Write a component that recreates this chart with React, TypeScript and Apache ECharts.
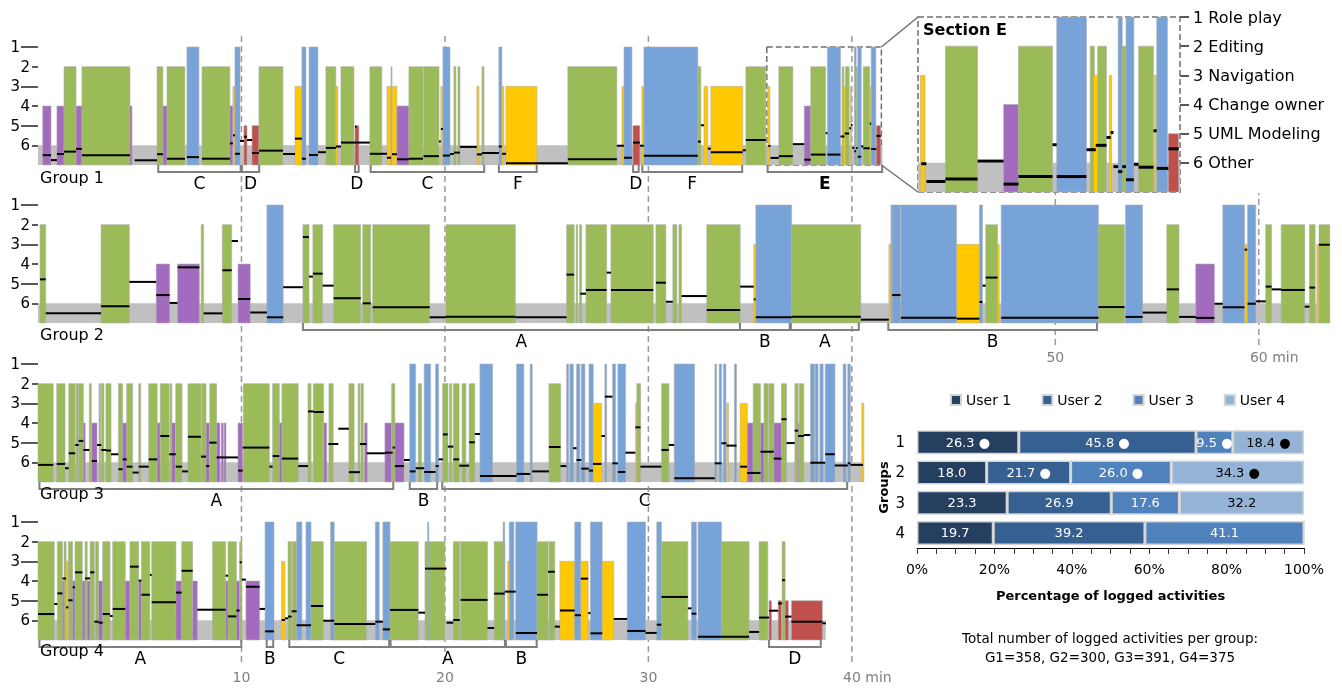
import React, { useEffect, useRef } from 'react';
import * as echarts from 'echarts';

const FONT = 'DejaVu Sans';

// ---------- timeline data (minutes, level) ----------
const LEVEL_NAMES = ['Role play', 'Editing', 'Navigation', 'Change owner', 'UML Modeling', 'Other'];
const LEVEL_COLORS = ['#77a3d8', '#9bbb59', '#ffc800', '#a36bbd', '#c0504d', '#bfbfbf'];
const GROUP_NAMES = ['Group 1', 'Group 2', 'Group 3', 'Group 4'];
const X_MAX = 63.5;
const GRAY_END = [41.5, 63.5, 40.56, 38.72];
const E_RANGE = [35.82, 41.45];
const DASH_MAIN = [10, 20, 30, 40];
const DASH_G2 = [50, 60];
const ODD_LEVELS = [1, 3, 5];
const EVEN_LEVELS = [2, 4, 6];
const ALL_LEVELS = [1, 2, 3, 4, 5, 6];

const G1_BARS = [
  [0.23, 0.64, 4], [0.93, 1.28, 4], [1.28, 1.87, 2], [1.87, 2.16, 4], [2.16, 4.52, 2], [4.52, 4.62, 4],
  [5.85, 6.14, 2], [6.14, 6.34, 4], [6.34, 7.22, 2], [7.32, 7.91, 1], [8.06, 9.43, 2], [9.43, 9.58, 4], [9.58, 9.68, 3], [9.68, 9.93, 1],
  [10.12, 10.27, 5], [10.52, 10.86, 5], [10.86, 12.04, 2], [12.63, 12.97, 3], [12.97, 13.17, 1], [13.32, 13.76, 1], [14.15, 14.64, 2], [14.64, 14.74, 3], [14.89, 15.53, 2], [15.58, 15.77, 5],
  [16.31, 16.9, 2], [17.15, 17.35, 3], [17.35, 17.4, 2], [17.4, 17.64, 3], [17.64, 18.23, 4], [18.23, 18.92, 2], [18.95, 19.71, 2], [19.8, 19.9, 3], [19.9, 20.25, 1],
  [20.44, 20.54, 2], [20.64, 20.74, 2], [21.57, 21.67, 3], [21.82, 21.92, 2], [22.65, 22.8, 1], [22.8, 22.9, 3], [23.0, 24.52, 3],
  [26.04, 28.45, 2], [28.7, 28.8, 3], [28.8, 29.19, 1], [29.24, 29.58, 5], [29.68, 29.78, 3], [29.78, 32.43, 1], [32.43, 32.58, 2], [32.73, 32.92, 3], [33.07, 34.64, 3], [34.79, 35.77, 2],
  [35.87, 35.97, 3], [36.41, 37.1, 2], [37.66, 37.98, 4], [37.98, 38.71, 2], [38.8, 39.44, 1], [39.52, 39.61, 2], [39.59, 39.68, 3], [39.68, 39.87, 2], [39.93, 39.98, 3],
  [40.12, 40.21, 1], [40.21, 40.29, 2], [40.29, 40.46, 1], [40.56, 40.88, 2], [40.9, 40.95, 3], [40.95, 41.18, 1], [41.2, 41.42, 5],
];
const G1_LINES = [
  [0.23, 0.64, 6.5], [0.64, 0.93, 6.75], [0.93, 1.28, 6.44], [1.28, 1.87, 6.32], [1.87, 2.16, 6.18], [2.16, 4.52, 6.5], [4.75, 5.85, 6.76], [5.85, 6.14, 6.45],
  [6.34, 7.22, 6.68], [7.32, 7.91, 6.6], [8.06, 9.43, 6.68], [9.43, 9.58, 5.9], [9.58, 9.68, 5.49], [9.68, 9.93, 6.43], [9.93, 10.12, 5.78], [10.12, 10.27, 5.56],
  [10.27, 10.52, 5.73], [10.52, 10.86, 6.39], [10.86, 12.04, 6.27], [12.04, 12.63, 6.44], [12.63, 12.97, 5.66], [12.97, 13.17, 6.68], [13.32, 13.76, 6.49],
  [13.76, 14.15, 6.35], [14.15, 14.64, 6.13], [14.64, 14.89, 6.06], [14.89, 16.31, 5.86], [15.58, 15.66, 5.05], [16.31, 17.15, 6.43], [17.15, 17.35, 6.63],
  [17.4, 17.64, 6.45], [17.64, 18.23, 6.71], [18.23, 18.92, 6.68], [18.95, 19.71, 6.55], [19.71, 19.8, 5.81], [19.8, 19.9, 5.17], [19.9, 20.25, 6.52],
  [20.25, 20.44, 6.44], [20.44, 20.74, 6.37], [20.74, 21.57, 6.08], [21.57, 21.82, 6.46], [21.82, 22.65, 6.39], [22.65, 22.8, 6.06], [22.8, 23.0, 6.43],
  [23.0, 26.04, 6.91], [26.04, 28.45, 6.71], [28.45, 28.8, 6.02], [28.8, 29.19, 6.63], [29.24, 29.58, 5.86], [29.58, 29.78, 6.02], [29.78, 32.43, 6.53],
  [32.43, 32.58, 5.81], [32.58, 32.73, 4.98], [32.92, 33.07, 6.17], [33.07, 34.64, 6.35], [34.64, 34.79, 6.25], [34.79, 35.77, 5.73],
  [35.89, 36.0, 6.03], [36.0, 36.41, 6.64], [36.41, 37.1, 6.55], [37.1, 37.66, 5.94], [37.66, 37.98, 6.73], [37.98, 38.71, 6.47], [38.71, 38.8, 5.38],
  [38.8, 39.44, 6.47], [39.44, 39.64, 5.55], [39.64, 39.87, 5.4], [39.87, 39.96, 5.13], [39.96, 40.02, 4.96], [40.02, 40.12, 6.13], [40.12, 40.21, 6.3],
  [40.21, 40.29, 6.13], [40.29, 40.46, 6.58], [40.46, 40.56, 6.05], [40.56, 40.88, 6.15], [40.88, 40.95, 4.9], [40.95, 41.2, 6.19], [41.2, 41.42, 5.52],
];
const G1_SECTIONS = [
  [5.91, 9.96, 'C'], [10.02, 10.87, 'D'], [15.58, 15.76, 'D'], [16.35, 21.93, 'C'], [22.65, 24.51, 'F'],
  [29.25, 29.52, 'D'], [29.7, 34.61, 'F'], [35.86, 41.49, 'E'],
];

const G2_BARS = [
  [0.1, 0.38, 2], [3.1, 4.49, 2], [5.81, 6.47, 4], [6.86, 7.93, 4], [8.02, 8.14, 2], [9.06, 9.52, 2], [9.83, 10.43, 4], [11.25, 12.05, 1],
  [13.02, 13.32, 2], [13.51, 13.99, 2], [14.53, 15.86, 2], [15.96, 16.35, 2], [16.45, 19.25, 2], [20.05, 23.46, 2],
  [25.98, 26.35, 2], [26.45, 26.52, 2], [26.62, 26.72, 2], [26.93, 27.95, 2], [28.16, 30.24, 2], [30.37, 30.86, 2], [31.2, 31.4, 2], [31.5, 31.63, 2],
  [32.87, 34.51, 2], [35.18, 35.27, 3], [35.28, 37.04, 1], [37.04, 40.44, 2],
  [41.82, 41.92, 3], [41.92, 41.98, 1], [41.98, 42.39, 1], [42.41, 45.14, 1], [45.16, 46.27, 3], [46.27, 46.42, 1], [46.58, 47.16, 2], [47.16, 47.24, 3],
  [47.34, 52.12, 1], [52.12, 53.4, 2], [53.45, 54.29, 1], [55.48, 56.08, 2], [56.9, 57.82, 4], [58.23, 59.3, 1], [59.3, 59.43, 3], [59.45, 59.85, 1],
  [60.34, 60.63, 2], [61.1, 62.26, 2], [62.49, 62.77, 2], [62.85, 62.96, 3], [62.96, 63.49, 2],
];
const G2_LINES = [
  [0.1, 0.38, 4.78], [0.38, 3.1, 6.51], [3.1, 4.49, 6.15], [4.49, 5.81, 4.91], [5.81, 6.47, 5.58], [6.47, 6.86, 5.98], [6.86, 7.93, 4.17], [8.14, 9.06, 6.51],
  [9.06, 9.52, 4.32], [9.52, 9.83, 2.83], [9.83, 10.43, 5.78], [10.43, 11.25, 6.47], [11.25, 12.05, 6.71], [12.05, 13.02, 5.18], [13.02, 13.32, 2.63],
  [13.32, 13.51, 4.64], [13.51, 13.99, 4.49], [13.99, 14.53, 5.1], [14.53, 15.86, 5.74], [15.96, 16.35, 6.0], [16.45, 19.25, 6.2], [19.25, 20.05, 6.71],
  [20.05, 23.46, 6.68], [23.46, 25.98, 6.71], [25.98, 26.35, 4.54], [26.65, 26.93, 5.51], [26.93, 27.95, 5.32], [27.95, 28.16, 4.44], [28.16, 30.24, 5.32],
  [30.37, 30.86, 4.95], [30.86, 31.2, 5.92], [31.63, 32.87, 5.63], [32.87, 34.51, 6.34], [34.51, 35.18, 5.15], [35.18, 35.27, 5.8], [35.28, 37.04, 6.71],
  [37.04, 40.44, 6.68], [40.44, 41.82, 6.83], [41.98, 42.39, 5.58], [42.41, 45.14, 6.73], [45.16, 46.27, 6.78], [46.27, 46.42, 5.93], [46.42, 46.58, 5.1],
  [46.58, 47.16, 4.69], [47.34, 52.12, 6.73], [52.12, 53.4, 6.19], [53.45, 54.29, 6.69], [54.29, 55.48, 6.47], [55.48, 56.08, 5.29], [56.08, 56.9, 6.69],
  [56.9, 57.82, 6.74], [57.82, 58.23, 6.02], [58.23, 59.3, 6.2], [59.3, 59.43, 3.27], [59.45, 59.85, 6.02], [59.85, 60.34, 5.9], [60.34, 60.63, 5.15],
  [60.63, 61.1, 5.29], [61.1, 62.26, 5.32], [62.26, 62.49, 6.17], [62.49, 62.77, 5.2], [62.96, 63.49, 3.02],
];
const G2_SECTIONS = [[13.02, 34.5, 'A'], [34.5, 36.95, 'B'], [37.0, 40.34, 'A'], [41.79, 52.05, 'B']];

const G3_BARS = [
  [0, 0.75, 2], [0.92, 1.33, 2], [1.51, 1.83, 2], [1.87, 1.98, 2], [2.0, 2.23, 2], [2.23, 2.32, 4], [2.52, 2.62, 2], [2.64, 2.9, 4], [3.0, 3.08, 2],
  [3.11, 3.24, 2], [3.34, 3.59, 2], [3.95, 4.16, 2], [4.16, 4.36, 4], [4.36, 4.65, 2], [4.95, 5.05, 2], [5.44, 5.86, 2], [5.86, 6.0, 4], [6.01, 6.45, 2],
  [6.49, 6.58, 2], [6.58, 6.75, 4], [6.77, 7.08, 2], [7.37, 8.01, 2], [8.04, 8.26, 2], [8.26, 8.42, 4], [8.44, 8.78, 2], [8.78, 8.94, 4], [9.01, 9.11, 4],
  [9.15, 9.24, 4], [9.83, 10.06, 4], [10.09, 11.37, 2], [11.53, 11.86, 2], [11.86, 11.99, 4], [11.99, 12.79, 2], [13.27, 13.42, 2], [13.53, 14.04, 2],
  [14.05, 14.19, 4], [14.3, 14.51, 2], [15.28, 15.54, 2], [15.73, 15.82, 2], [15.87, 15.99, 2], [16.05, 16.18, 4], [17.05, 17.38, 4], [17.38, 17.54, 2],
  [17.54, 17.99, 4], [18.27, 18.56, 1], [18.69, 18.85, 2], [18.98, 19.3, 1], [19.54, 19.69, 1], [19.89, 20.15, 2],
  [20.23, 20.33, 2], [20.41, 20.7, 2], [20.84, 21.03, 2], [21.19, 21.47, 2], [21.72, 22.34, 1], [23.52, 23.88, 1], [24.19, 24.29, 1], [25.11, 25.69, 2],
  [25.98, 26.08, 1], [26.14, 26.31, 1], [26.47, 26.63, 1], [26.7, 26.88, 1], [27.08, 27.29, 1], [27.29, 27.7, 3], [27.86, 27.95, 1], [28.24, 28.39, 1],
  [28.5, 28.88, 1], [29.37, 29.43, 3], [29.43, 29.62, 2], [30.65, 31.01, 2], [31.27, 32.27, 1], [33.27, 33.35, 1], [33.48, 33.6, 1], [33.69, 33.81, 1],
  [33.84, 33.94, 3], [34.23, 34.33, 1], [34.51, 34.86, 3], [34.86, 35.15, 4], [35.15, 35.51, 2], [35.51, 35.68, 4], [35.68, 35.89, 2], [35.92, 36.17, 2],
  [36.17, 36.54, 4], [36.54, 36.79, 2], [37.2, 37.36, 2], [37.36, 37.41, 4], [37.41, 37.64, 2], [37.97, 38.17, 1], [38.2, 38.34, 1], [38.43, 38.59, 1],
  [38.69, 39.17, 1], [39.57, 39.71, 1], [39.8, 39.93, 1], [40.49, 40.59, 3],
];
const G3_LINES = [
  [0, 0.75, 6.13], [0.92, 1.33, 6.08], [1.33, 1.51, 6.3], [1.51, 1.83, 5.54], [1.83, 2.0, 5.12], [2.0, 2.23, 4.91], [2.23, 2.52, 5.37], [2.64, 2.9, 5.93],
  [2.9, 3.11, 5.12], [3.11, 3.34, 5.37], [3.34, 3.59, 5.4], [3.59, 3.95, 5.59], [3.95, 4.16, 6.35], [4.16, 4.36, 5.85], [4.36, 4.65, 6.22], [4.65, 4.95, 6.52],
  [4.95, 5.44, 6.22], [5.44, 5.86, 5.85], [6.01, 6.45, 4.66], [6.45, 6.77, 5.59], [6.77, 7.08, 6.22], [7.08, 7.37, 6.46], [7.37, 8.01, 4.7], [8.01, 8.26, 5.71],
  [8.26, 8.42, 6.19], [8.42, 8.78, 5.0], [8.78, 9.83, 5.75], [9.83, 10.06, 6.42], [10.06, 11.37, 5.25], [11.37, 11.53, 6.22], [11.53, 11.86, 5.68],
  [11.99, 12.79, 5.81], [12.79, 13.27, 6.19], [13.27, 13.53, 3.41], [13.53, 14.04, 3.44], [14.27, 14.76, 5.07], [14.76, 15.28, 4.29], [15.28, 15.82, 6.5],
  [15.82, 16.15, 5.07], [16.15, 17.05, 5.54], [17.05, 17.43, 5.51], [17.43, 17.54, 5.25], [17.54, 17.99, 6.19], [17.99, 18.27, 5.88], [18.27, 18.56, 6.46],
  [18.56, 18.98, 6.3], [18.98, 19.54, 6.49], [19.54, 19.69, 6.19], [19.69, 19.9, 5.85], [19.9, 20.14, 4.58],
  [20.14, 20.41, 5.2], [20.41, 20.7, 5.85], [20.7, 21.19, 6.17], [21.19, 21.47, 4.98], [21.47, 21.72, 4.56], [21.72, 23.52, 6.69], [23.52, 24.19, 6.59],
  [24.29, 25.11, 6.46], [25.11, 25.68, 5.22], [25.68, 25.97, 6.19], [26.3, 26.47, 5.28], [26.47, 26.7, 5.88], [26.7, 27.07, 6.32], [27.07, 27.28, 6.42],
  [27.28, 27.69, 6.08], [27.69, 27.86, 4.66], [27.86, 28.23, 2.66], [28.23, 28.5, 6.05], [28.5, 28.87, 6.49], [28.87, 29.36, 5.51], [29.36, 29.61, 4.22],
  [29.61, 30.64, 6.22], [30.64, 31.0, 5.37], [31.0, 31.27, 5.12], [31.27, 33.26, 6.81], [33.26, 33.59, 6.05], [33.59, 33.84, 5.03], [33.84, 34.33, 5.15],
  [34.51, 34.85, 6.22], [34.85, 35.51, 6.54], [35.51, 36.16, 5.46], [36.16, 36.54, 5.81], [36.54, 36.79, 3.81], [36.79, 37.19, 5.02], [37.19, 37.36, 4.39],
  [37.36, 37.64, 4.66], [37.64, 37.96, 4.61], [37.96, 38.69, 6.02], [38.69, 39.16, 5.59], [39.16, 39.8, 6.16], [39.8, 39.93, 6.05], [39.93, 40.55, 6.13],
];
const G3_SECTIONS = [[0.07, 17.46, 'A'], [18.27, 19.62, 'B'], [19.87, 39.77, 'C']];

const G4_BARS = [
  [0, 0.8, 2], [0.95, 1.2, 2], [1.2, 1.28, 4], [1.28, 1.38, 2], [1.38, 1.49, 3], [1.49, 1.7, 2], [1.7, 1.82, 4], [1.82, 2.18, 2], [2.18, 2.31, 4],
  [2.31, 2.42, 2], [2.42, 2.56, 4], [2.56, 2.77, 2], [2.83, 2.98, 2], [2.98, 3.18, 4], [3.18, 3.54, 2], [3.67, 4.29, 2], [4.29, 4.52, 4], [4.52, 4.95, 2],
  [4.95, 5.08, 4], [5.08, 5.5, 2], [5.59, 6.78, 2], [6.78, 7.06, 4], [7.06, 7.6, 2], [7.6, 7.83, 4], [8.58, 9.22, 2], [9.22, 9.34, 4], [9.34, 9.75, 2],
  [9.75, 9.91, 4], [9.91, 10.02, 2], [10.22, 10.89, 4], [11.16, 11.6, 1], [11.97, 12.14, 3], [12.29, 12.47, 2], [12.5, 12.71, 2], [12.71, 12.97, 1],
  [13.17, 13.42, 1], [13.42, 14.02, 2], [14.38, 14.56, 1], [14.56, 16.15, 2], [16.58, 16.77, 1], [16.95, 17.3, 1], [17.3, 18.69, 2], [19.02, 20.0, 2],
  [19.15, 19.21, 1], [20.41, 20.73, 2], [20.77, 22.09, 2], [22.42, 22.94, 2], [22.86, 22.94, 1], [23.08, 23.19, 3], [23.16, 23.39, 1], [23.48, 24.53, 1],
  [24.53, 25.07, 2], [25.11, 25.4, 2], [25.65, 26.38, 3], [26.38, 26.68, 1], [26.68, 27.04, 3], [27.15, 27.73, 1], [27.73, 28.3, 3], [28.96, 29.86, 1],
  [30.41, 30.64, 1], [30.64, 31.94, 2], [32.12, 32.36, 1], [32.44, 33.59, 1], [33.59, 34.95, 2], [35.44, 35.87, 2], [35.93, 36.05, 5], [36.38, 36.54, 5],
  [36.57, 36.72, 2], [36.72, 36.88, 5], [37.03, 38.55, 5],
];
const G4_LINES = [
  [0, 0.8, 5.68], [0.8, 0.95, 5.17], [0.95, 1.2, 4.63], [1.2, 1.38, 3.87], [1.38, 1.49, 5.34], [1.49, 1.7, 4.98], [1.7, 1.82, 4.32], [1.82, 2.18, 3.56],
  [2.31, 2.56, 3.87], [2.56, 2.77, 3.56], [2.77, 2.98, 6.07], [2.98, 3.18, 6.12], [3.18, 3.54, 5.68], [3.54, 3.67, 5.78], [3.67, 4.29, 5.42],
  [4.52, 4.95, 3.27], [4.95, 5.08, 3.98], [5.08, 5.5, 4.7], [5.5, 5.59, 3.69], [5.59, 6.78, 5.08], [6.78, 7.06, 4.59], [7.06, 7.6, 3.48], [7.83, 9.22, 5.46],
  [9.22, 9.34, 3.73], [9.34, 9.75, 5.8], [9.75, 9.91, 5.5], [9.91, 10.02, 3.05], [10.02, 10.22, 3.93], [10.22, 10.89, 4.29], [10.89, 11.16, 5.42],
  [11.16, 11.6, 6.56], [11.97, 12.14, 5.98], [12.14, 12.29, 5.9], [12.29, 12.47, 5.81], [12.47, 12.71, 5.54], [12.71, 13.42, 6.25], [13.42, 14.02, 5.27],
  [14.02, 14.56, 6.02], [14.56, 16.58, 6.19], [16.58, 16.95, 6.07], [16.95, 17.3, 6.46], [17.3, 18.69, 5.47], [18.69, 19.02, 5.61], [19.02, 20.08, 3.37],
  [20.08, 20.41, 6.12], [20.41, 20.73, 5.98], [20.77, 22.09, 4.96], [22.09, 22.42, 6.39], [22.42, 22.94, 4.64], [22.94, 23.48, 4.54], [23.48, 24.53, 6.64],
  [24.53, 25.07, 4.7], [25.07, 25.4, 3.53], [25.4, 25.65, 6.32], [25.65, 26.38, 5.5], [26.38, 26.68, 5.74], [26.68, 27.04, 3.88], [27.04, 27.15, 5.63],
  [27.15, 27.73, 6.66], [28.3, 28.96, 5.93], [28.96, 29.86, 6.54], [29.86, 30.41, 6.64], [30.41, 30.64, 6.22], [30.64, 31.94, 4.81], [31.94, 32.12, 5.39],
  [32.12, 32.36, 5.66], [32.44, 34.95, 6.83], [34.95, 35.44, 6.59], [35.44, 35.93, 5.86], [35.93, 36.38, 5.51], [36.38, 36.57, 5.14], [36.57, 36.72, 3.96],
  [36.72, 37.03, 5.81], [37.03, 38.55, 6.07], [38.55, 38.72, 6.15],
];
const G4_SECTIONS = [[0.07, 9.99, 'A'], [11.24, 11.56, 'B'], [12.35, 17.26, 'C'], [17.33, 22.95, 'A'], [23.0, 24.51, 'B'], [35.93, 38.47, 'D']];

// ---------- stacked bar data ----------
const BAR_GROUPS = ['1', '2', '3', '4'];
const USERS = ['User 1', 'User 2', 'User 3', 'User 4'];
const USER_COLORS = ['#243f60', '#366092', '#4f81bd', '#95b3d7'];
const USER1_PCT = [26.3, 18.0, 23.3, 19.7];
const USER2_PCT = [45.8, 21.7, 26.9, 39.2];
const USER3_PCT = [9.5, 26.0, 17.6, 41.1];
const USER4_PCT = [18.4, 34.3, 32.2, 0];
const USER1_DOT = [true, false, false, false];
const USER2_DOT = [true, true, false, false];
const USER3_DOT = [true, true, false, false];
const USER4_DOT = [true, true, false, false];
const TOTALS = [358, 300, 391, 375];

// ---------- layout ----------
const GRID_TOPS = [47, 205, 364, 522];
const GRID_H = 118;
const GRID_LEFT = 38;
const GRID_W = 1292;
const LABEL_TOPS = [169, 326, 485, 642];

const clip = (r: any, cs: any) =>
  echarts.graphic.clipRectByRect(r, { x: cs.x, y: cs.y, width: cs.width, height: cs.height });

const barRender = (params: any, api: any) => {
  const s = api.value(0), e = api.value(1), l = api.value(2);
  const p0 = api.coord([s, l]);
  const p1 = api.coord([e, 7]);
  const r = clip({ x: p0[0], y: p0[1], width: Math.max(p1[0] - p0[0], 1), height: p1[1] - p0[1] }, params.coordSys);
  if (!r) return null;
  return {
    type: 'rect', shape: r,
    style: { fill: LEVEL_COLORS[l - 1], stroke: 'rgba(175,175,175,0.75)', lineWidth: 0.8 },
  };
};

const bandRender = (params: any, api: any) => {
  const s = api.value(0), e = api.value(1), l = api.value(2);
  const p0 = api.coord([s, l]);
  const p1 = api.coord([e, 7]);
  const r = clip({ x: p0[0], y: p0[1], width: p1[0] - p0[0], height: p1[1] - p0[1] }, params.coordSys);
  if (!r) return null;
  return { type: 'rect', shape: r, style: { fill: '#c0c0c0' } };
};

const makeLineRender = (h: number) => (params: any, api: any) => {
  const s = api.value(0), e = api.value(1), l = api.value(2);
  const p0 = api.coord([s, l]);
  const p1 = api.coord([e, l]);
  const r = clip({ x: p0[0], y: p0[1] - h / 2, width: Math.max(p1[0] - p0[0], 1.5), height: h }, params.coordSys);
  if (!r) return null;
  return { type: 'rect', shape: r, style: { fill: '#000' } };
};

const makeBracketRender = (sections: any[]) => (params: any, api: any) => {
  const sec = sections[params.dataIndex];
  const p0 = api.coord([sec[0], 7]);
  const p1 = api.coord([sec[1], 7]);
  const y0 = p0[1];
  const y1 = y0 + 7;
  return {
    type: 'group',
    children: [
      {
        type: 'polyline',
        shape: { points: [[p0[0], y0], [p0[0], y1], [p1[0], y1], [p1[0], y0]] },
        style: { stroke: '#7f7f7f', lineWidth: 2, fill: null },
      },
      {
        type: 'text',
        style: {
          text: sec[2], x: (p0[0] + p1[0]) / 2, y: y1 + 2, align: 'center', verticalAlign: 'top',
          fontSize: 17, fontFamily: FONT, fontWeight: sec[2] === 'E' ? 'bold' : 'normal', fill: '#000',
        },
      },
    ],
  };
};

const dashRender = (params: any, api: any) => {
  const v = api.value(0);
  const a = api.coord([v, 0]);
  const b = api.coord([v, 1]);
  return {
    type: 'line', shape: { x1: a[0], y1: a[1], x2: b[0], y2: b[1] },
    style: { stroke: '#9a9a9a', lineWidth: 1.5, lineDash: [6, 4] },
  };
};

export default function App() {
  const ref = useRef<HTMLDivElement>(null);
  useEffect(() => {
    if (!ref.current) return;
    const chart = echarts.init(ref.current, undefined, { renderer: 'svg' });

    const GROUPS = [
      { bars: G1_BARS, lines: G1_LINES, sections: G1_SECTIONS },
      { bars: G2_BARS, lines: G2_LINES, sections: G2_SECTIONS },
      { bars: G3_BARS, lines: G3_LINES, sections: G3_SECTIONS },
      { bars: G4_BARS, lines: G4_LINES, sections: G4_SECTIONS },
    ];
    const PCTS = [USER1_PCT, USER2_PCT, USER3_PCT, USER4_PCT];
    const DOTS = [USER1_DOT, USER2_DOT, USER3_DOT, USER4_DOT];

    const grid: any[] = [];
    const xAxis: any[] = [];
    const yAxis: any[] = [];
    const series: any[] = [];

    GRID_TOPS.forEach((top, i) => {
      grid.push({ left: GRID_LEFT, top, width: GRID_W, height: GRID_H });
      xAxis.push({ gridIndex: i, type: 'value', min: 0, max: X_MAX, show: false });
    });
    GRID_TOPS.forEach((_, i) => {
      yAxis.push({
        gridIndex: i, type: 'value', min: 1, max: 7, inverse: true, position: 'left',
        axisLine: { show: false }, splitLine: { show: false },
        axisTick: { show: true, length: 17, customValues: ODD_LEVELS, lineStyle: { color: '#222', width: 1.5 } },
        axisLabel: { customValues: ODD_LEVELS, margin: 18, fontSize: 15, color: '#000', fontFamily: FONT },
      });
    });
    GRID_TOPS.forEach((_, i) => {
      yAxis.push({
        gridIndex: i, type: 'value', min: 1, max: 7, inverse: true, position: 'left',
        axisLine: { show: false }, splitLine: { show: false },
        axisTick: { show: true, length: 6, customValues: EVEN_LEVELS, lineStyle: { color: '#222', width: 1.5 } },
        axisLabel: { customValues: EVEN_LEVELS, margin: 8, fontSize: 15, color: '#000', fontFamily: FONT },
      });
    });

    grid.push({ left: GRID_LEFT, top: 33, width: GRID_W, height: 629 });
    xAxis.push({
      gridIndex: 4, type: 'value', min: 0, max: X_MAX,
      axisLine: { show: false }, axisTick: { show: false }, splitLine: { show: false },
      axisLabel: {
        customValues: DASH_MAIN, margin: 8, fontSize: 14, color: '#808080', fontFamily: FONT,
        formatter: (v: number) => (v === DASH_MAIN[DASH_MAIN.length - 1] ? `{p|${v}} min` : `${v}`),
        rich: { p: { padding: [0, 0, 0, 31], fontSize: 14, color: '#808080', fontFamily: FONT } },
      },
    });
    yAxis.push({ gridIndex: 4, type: 'value', min: 0, max: 1, show: false });

    grid.push({ left: GRID_LEFT, top: 193, width: GRID_W, height: 152 });
    xAxis.push({
      gridIndex: 5, type: 'value', min: 0, max: X_MAX,
      axisLine: { show: false }, axisTick: { show: false }, splitLine: { show: false },
      axisLabel: {
        customValues: DASH_G2, margin: 5, fontSize: 14, color: '#808080', fontFamily: FONT,
        formatter: (v: number) => (v === DASH_G2[DASH_G2.length - 1] ? `{p|${v}} min` : `${v}`),
        rich: { p: { padding: [0, 0, 0, 31], fontSize: 14, color: '#808080', fontFamily: FONT } },
      },
    });
    yAxis.push({ gridIndex: 5, type: 'value', min: 0, max: 1, show: false });

    grid.push({ left: 918, top: 17, width: 262, height: 175 });
    xAxis.push({ gridIndex: 6, type: 'value', min: E_RANGE[0], max: E_RANGE[1], show: false });
    yAxis.push({
      gridIndex: 6, type: 'value', min: 1, max: 7, inverse: true, position: 'right',
      axisLine: { show: false }, splitLine: { show: false },
      axisTick: { show: true, length: 9, customValues: ALL_LEVELS, lineStyle: { color: '#222', width: 1.5 } },
      axisLabel: {
        customValues: ALL_LEVELS, margin: 13, fontSize: 16, color: '#000', fontFamily: FONT,
        formatter: (v: number) => `${v} ${LEVEL_NAMES[v - 1]}`,
      },
    });

    grid.push({ left: 917, top: 427, width: 387, height: 121 });
    xAxis.push({
      gridIndex: 7, type: 'value', min: 0, max: 100, interval: 20,
      axisLine: { show: true, lineStyle: { color: '#000', width: 1 } },
      axisTick: { show: true, length: 6, lineStyle: { color: '#333' } },
      minorTick: { show: true, splitNumber: 4, length: 6, lineStyle: { color: '#333' } },
      splitLine: { show: false },
      axisLabel: { formatter: '{value}%', fontSize: 14, color: '#000', margin: 14, fontFamily: FONT },
      name: 'Percentage of logged activities', nameLocation: 'middle', nameGap: 41,
      nameTextStyle: { fontWeight: 'bold', fontSize: 13, color: '#000', fontFamily: FONT },
    });
    yAxis.push({
      gridIndex: 7, type: 'category', data: BAR_GROUPS, inverse: true,
      axisLine: { show: false }, axisTick: { show: false },
      axisLabel: { fontSize: 15, color: '#000', margin: 12, fontFamily: FONT },
      name: 'Groups', nameLocation: 'middle', nameGap: 27, nameRotate: 90,
      nameTextStyle: { fontWeight: 'bold', fontSize: 13, color: '#000', fontFamily: FONT },
    });

    series.push({
      type: 'custom', xAxisIndex: 4, yAxisIndex: 8, data: DASH_MAIN.map((v) => [v]),
      renderItem: dashRender, encode: { x: 0 }, silent: true, z: 1,
    });
    series.push({
      type: 'custom', xAxisIndex: 5, yAxisIndex: 9, data: DASH_G2.map((v) => [v]),
      renderItem: dashRender, encode: { x: 0 }, silent: true, z: 1,
    });

    GROUPS.forEach((g, i) => {
      series.push({
        type: 'custom', xAxisIndex: i, yAxisIndex: i, data: [[0, GRAY_END[i], 6]],
        renderItem: bandRender, encode: { x: [0, 1], y: 2 }, silent: true, z: 2,
        markArea: i === 0 ? {
          silent: true,
          itemStyle: { color: 'rgba(0,0,0,0)', borderColor: '#6f6f6f', borderWidth: 1.5, borderType: 'dashed' },
          data: [[{ xAxis: E_RANGE[0], yAxis: 1 }, { xAxis: E_RANGE[1], yAxis: 7 }]],
        } : undefined,
      });
      series.push({
        type: 'custom', xAxisIndex: i, yAxisIndex: i, data: g.bars,
        renderItem: barRender, encode: { x: [0, 1], y: 2 }, silent: true, z: 3,
      });
      series.push({
        type: 'custom', xAxisIndex: i, yAxisIndex: i, data: g.lines,
        renderItem: makeLineRender(2), encode: { x: [0, 1], y: 2 }, silent: true, z: 4,
      });
      series.push({
        type: 'custom', xAxisIndex: i, yAxisIndex: i, data: g.sections.map((s) => [s[0], s[1]]),
        renderItem: makeBracketRender(g.sections), encode: { x: [0, 1] }, silent: true, clip: false, z: 4,
      });
    });

    series.push({
      type: 'custom', xAxisIndex: 6, yAxisIndex: 10, data: [[0, GRAY_END[0], 6]],
      renderItem: bandRender, encode: { x: [0, 1], y: 2 }, silent: true, z: 2,
      markArea: {
        silent: true,
        itemStyle: { color: 'rgba(0,0,0,0)', borderColor: '#6f6f6f', borderWidth: 1.5, borderType: 'dashed' },
        data: [[{ xAxis: E_RANGE[0], yAxis: 1 }, { xAxis: E_RANGE[1], yAxis: 7 }]],
      },
    });
    series.push({
      type: 'custom', xAxisIndex: 6, yAxisIndex: 10, data: G1_BARS,
      renderItem: barRender, encode: { x: [0, 1], y: 2 }, silent: true, z: 3,
    });
    series.push({
      type: 'custom', xAxisIndex: 6, yAxisIndex: 10, data: G1_LINES,
      renderItem: makeLineRender(3), encode: { x: [0, 1], y: 2 }, silent: true, z: 4,
    });

    USERS.forEach((u, k) => {
      series.push({
        type: 'bar', name: u, stack: 'total', xAxisIndex: 7, yAxisIndex: 11, data: PCTS[k],
        barWidth: 24,
        itemStyle: { color: USER_COLORS[k], borderColor: '#d4d4d4', borderWidth: 1.5 },
        label: {
          show: true, position: 'inside', color: k === 3 ? '#000' : '#fff', fontSize: 13, fontFamily: FONT,
          formatter: (p: any) => (p.value > 0 ? `${p.value.toFixed(1)}${DOTS[k][p.dataIndex] ? ' ●' : ''}` : ''),
        },
        silent: true,
      });
    });

    chart.setOption({
      animation: false,
      grid, xAxis, yAxis, series,
      legend: {
        data: USERS, top: 388, left: 945, itemWidth: 10, itemHeight: 10, itemGap: 30, icon: 'rect',
        textStyle: { fontSize: 14, color: '#000', fontFamily: FONT },
      },
    });

    const mTop = chart.convertToPixel({ gridIndex: 0 } as any, [E_RANGE[1], 1]) as any;
    const mBot = chart.convertToPixel({ gridIndex: 0 } as any, [E_RANGE[1], 7]) as any;
    const iTop = chart.convertToPixel({ gridIndex: 6 } as any, [E_RANGE[0], 1]) as any;
    const iBot = chart.convertToPixel({ gridIndex: 6 } as any, [E_RANGE[0], 7]) as any;

    const graphic: any[] = GROUP_NAMES.map((name, i) => ({
      type: 'text', left: 40, top: LABEL_TOPS[i], z: 10,
      style: { text: name, fontSize: 16, fontFamily: FONT, fill: '#000' },
    }));
    graphic.push({
      type: 'text', left: 923, top: 21, z: 10,
      style: { text: 'Section E', fontSize: 16, fontWeight: 'bold', fontFamily: FONT, fill: '#000' },
    });
    graphic.push({
      type: 'text', x: 1110, y: 628, z: 10,
      style: {
        text: `Total number of logged activities per group:\n${TOTALS.map((t, i) => `G${i + 1}=${t}`).join(', ')}`,
        align: 'center', fontSize: 13.5, lineHeight: 19, fontFamily: FONT, fill: '#000',
      },
    });
    if (mTop && iTop) {
      graphic.push({ type: 'line', z: 10, shape: { x1: mTop[0], y1: mTop[1], x2: iTop[0], y2: iTop[1] }, style: { stroke: '#6f6f6f', lineWidth: 1.5 } });
      graphic.push({ type: 'line', z: 10, shape: { x1: mBot[0], y1: mBot[1], x2: iBot[0], y2: iBot[1] }, style: { stroke: '#6f6f6f', lineWidth: 1.5 } });
    }
    chart.setOption({ graphic });

    return () => chart.dispose();
  }, []);

  return <div ref={ref} style={{ position: 'fixed', left: 0, top: 0, width: 1342, height: 690 }} />;
}
